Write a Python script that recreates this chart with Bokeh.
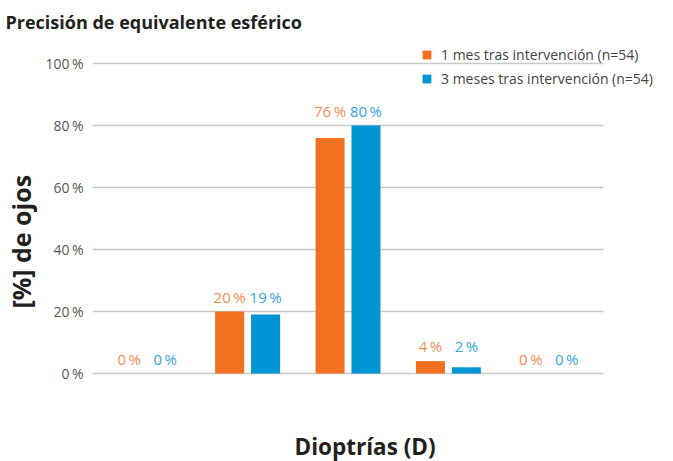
from bokeh.plotting import figure
from bokeh.models import (ColumnDataSource, Range1d, FixedTicker, Legend, LegendItem,
                          Title, LabelSet, Label, CustomJSTickFormatter)
from bokeh.core.properties import value
from bokeh.embed import file_html
from bokeh.resources import INLINE
import numpy as np

# ---- data ----
categories = ["< -1,00 D", "-1,00 a -0,51 D", "±0,50 D", "+0,51 a +1,00 D", "> +1,00 D"]
mes1 = [0, 20, 76, 4, 0]
mes3 = [0, 19, 80, 2, 0]
series_names = ["1 mes tras intervención (n=54)", "3 meses tras intervención (n=54)"]
y_ticks = [0, 20, 40, 60, 80, 100]
title_text = "Precisión de equivalente esférico"
y_label = "[%] de ojos"
x_label = "Dioptrías (D)"

ORANGE = "#f37021"
BLUE = "#0096d6"
ORANGE_TXT = "#f58d52"
BLUE_TXT = "#33a7df"
DARK = "#231f20"
FONT = "Open Sans"

n = len(categories)
x = np.arange(n, dtype=float)
off = 0.179
bw = 0.289
pad = 0.545
PX_X = 100.4   # px per category
PX_Y = 3.1     # px per percent
LEFT, TOP = 92, 34         # frame offset in canvas
FW, FH = 673 - LEFT, 461 - TOP
ZERO = 373 - TOP           # 0 % line, px from frame top
label_y = np.maximum(np.array(mes1), np.array(mes3))

src = ColumnDataSource(dict(
    x1=x - off, x3=x + off, m1=mes1, m3=mes3, ly=label_y,
    t1=[f"{v}\u2009%" for v in mes1], t3=[f"{v}\u2009%" for v in mes3],
))
grid_src = ColumnDataSource(dict(y=y_ticks, x0=[-pad] * len(y_ticks), x1=[n - 1 + pad] * len(y_ticks)))

p = figure(frame_width=FW, frame_height=FH, output_backend="svg", toolbar_location=None,
           x_range=Range1d(-pad, -pad + FW / PX_X),
           y_range=Range1d(-(FH - ZERO) / PX_Y, ZERO / PX_Y),
           min_border_left=LEFT, min_border_right=0, min_border_top=TOP, min_border_bottom=0)
p.outline_line_color = None
p.background_fill_color = "white"

p.segment(x0="x0", x1="x1", y0="y", y1="y", source=grid_src, line_color="#c8c8c8", line_width=1.3)

r1 = p.vbar(x="x1", top="m1", width=bw, bottom=0, source=src, fill_color=ORANGE, line_color=None)
r3 = p.vbar(x="x3", top="m3", width=bw, bottom=0, source=src, fill_color=BLUE, line_color=None)

for col, txt, c in (("x1", "t1", ORANGE_TXT), ("x3", "t3", BLUE_TXT)):
    p.add_layout(LabelSet(x=col, y="ly", text=txt, source=src, text_align="center",
                          text_baseline="alphabetic", y_offset=9, text_color=c,
                          text_font=value(FONT), text_font_size="15px"))

# y axis
p.yaxis.ticker = FixedTicker(ticks=y_ticks)
p.yaxis.formatter = CustomJSTickFormatter(code="return tick + '\u2009%';")
p.yaxis.axis_line_color = None
p.yaxis.major_tick_line_color = None
p.yaxis.minor_tick_line_color = None
p.yaxis.major_tick_out = 0
p.yaxis.major_tick_in = 0
p.yaxis.major_label_standoff = 9
p.yaxis.major_label_text_font = FONT
p.yaxis.major_label_text_font_size = "14px"
p.yaxis.major_label_text_color = "#595959"
p.yaxis.axis_label = "\u2002" + y_label
p.yaxis.axis_label_text_font = FONT
p.yaxis.axis_label_text_font_style = "bold"
p.yaxis.axis_label_text_font_size = "25px"
p.yaxis.axis_label_text_color = DARK
p.yaxis.axis_label_standoff = 5

p.xaxis.visible = False
p.xgrid.grid_line_color = None
p.ygrid.grid_line_color = None

# x axis title (inside the frame, below the bars)
p.add_layout(Label(x=(n - 1) / 2 + 0.17, y=-(446 - 373) / PX_Y, text=x_label,
                   text_align="center", text_baseline="alphabetic",
                   text_font=FONT, text_font_style="bold", text_font_size="22.5px",
                   text_color=DARK))

p.title = Title(text=title_text, align="left", offset=-(LEFT - 5),
                text_font=FONT, text_font_style="bold", text_font_size="18px",
                text_color=DARK, standoff=1)

legend = Legend(items=[LegendItem(label=series_names[0], renderers=[r1]),
                       LegendItem(label=series_names[1], renderers=[r3])],
                location=(421 - LEFT, FH - (46 - TOP) - 42), glyph_width=11, glyph_height=11,
                label_height=17, spacing=5, padding=0, margin=0, label_standoff=9,
                label_text_font=FONT, label_text_font_size="14px", label_text_color="#444444",
                border_line_color=None, background_fill_alpha=0)
p.add_layout(legend, "center")

open("out.html", "w").write(file_html(p, INLINE))
